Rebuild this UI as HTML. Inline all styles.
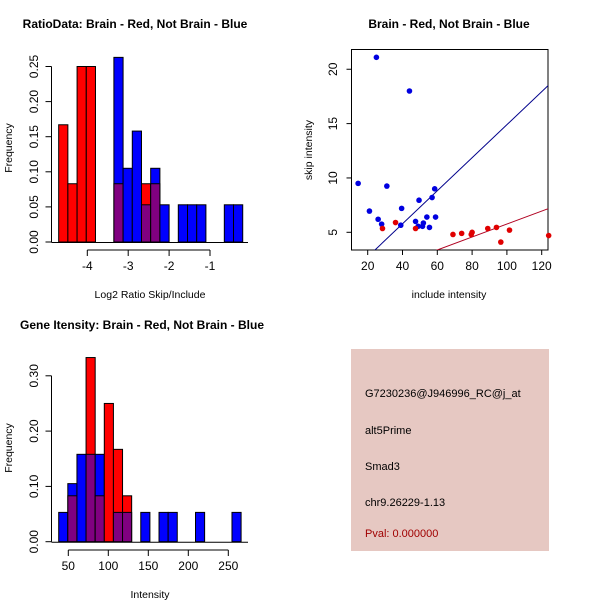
<!DOCTYPE html>
<html><head><meta charset="utf-8"><style>
body{margin:0;background:#fff;}
svg{display:block;font-family:"Liberation Sans",sans-serif;}
</style></head><body>
<svg id="s" width="600" height="600" xmlns="http://www.w3.org/2000/svg">
<rect width="600" height="600" fill="#fff"/>
<text x="135" y="28" font-size="12" font-weight="bold" text-anchor="middle">RatioData: Brain - Red, Not Brain - Blue</text>
<text x="150" y="298" font-size="10.5" text-anchor="middle">Log2 Ratio Skip/Include</text>
<text x="12" y="148" font-size="10.5" text-anchor="middle" transform="rotate(-90 12 148)">Frequency</text>
<text x="449" y="28" font-size="12" font-weight="bold" text-anchor="middle">Brain - Red, Not Brain - Blue</text>
<text x="449" y="298" font-size="10.5" text-anchor="middle">include intensity</text>
<text x="312" y="150" font-size="10.5" text-anchor="middle" transform="rotate(-90 312 150)">skip intensity</text>
<text x="142" y="329" font-size="12" font-weight="bold" text-anchor="middle">Gene Itensity: Brain - Red, Not Brain - Blue</text>
<text x="150" y="598" font-size="10.5" text-anchor="middle">Intensity</text>
<text x="12" y="448" font-size="10.5" text-anchor="middle" transform="rotate(-90 12 448)">Frequency</text>
<rect x="351" y="349" width="198" height="202" fill="#e6c8c2"/>
<g font-size="11">
<text x="365" y="397">G7230236@J946996_RC@j_at</text>
<text x="365" y="434">alt5Prime</text>
<text x="365" y="470">Smad3</text>
<text x="365" y="506">chr9.26229-1.13</text>
<text x="365" y="537" fill="#a00000">Pval: 0.000000</text>
</g>
</svg>
<script>
// ratio histogram data
const ratioStart = -4.70, ratioWidth = 0.225;
const ratioRed  = [0.167,0.083,0.25,0.25,0,0,0.083,0,0,0.083,0.083,0,0,0,0,0,0,0,0,0];
const ratioBlue = [0,0,0,0,0,0,0.263,0.105,0.158,0.053,0.105,0.053,0,0.053,0.053,0.053,0,0,0.053,0.053];
const ratioXTicks = [-4,-3,-2,-1];
const ratioYTicks = [0,0.05,0.10,0.15,0.20,0.25];
const ratioYLabels = ["0.00","0.05","0.10","0.15","0.20","0.25"];
// gene intensity histogram data
const geneStart = 38, geneWidth = 11.4;
const geneRed  = [0,0.083,0,0.333,0.083,0.25,0.167,0.083,0,0,0,0,0,0,0,0,0,0,0,0];
const geneBlue = [0.053,0.105,0.158,0.158,0.158,0,0.053,0.053,0,0.053,0,0.053,0.053,0,0,0.053,0,0,0,0.053];
const geneXTicks = [50,100,150,200,250];
const geneYTicks = [0,0.10,0.20,0.30];
const geneYLabels = ["0.00","0.10","0.20","0.30"];
// scatter data
const blueX = [14.5,25,44,21,26,28,31,39,39.5,47.5,49,49.5,51.5,52,54,55.5,57,58.5,59];
const blueY = [9.5,21.1,18,6.95,6.2,5.75,9.25,5.65,7.2,6.0,5.55,7.95,5.55,5.85,6.4,5.45,8.2,9.0,6.4];
const redX = [28.5,36,47.5,69,74,79.5,80,89,94,96.5,101.5,124];
const redY = [5.35,5.9,5.35,4.8,4.9,4.8,5.0,5.35,5.45,4.1,5.2,4.7];
const blueFit = [-0.3,0.152];
const redFit = [-0.2,0.0596];
const scatXTicks = [20,40,60,80,100,120];
const scatYTicks = [5,10,15,20];

const svg = document.getElementById('s');
const NS = 'http://www.w3.org/2000/svg';
function mk(tag, at, parent){ const e=document.createElementNS(NS,tag); for(const k in at) e.setAttribute(k,at[k]); (parent||svg).appendChild(e); return e; }

function hist(start,width,red,blue,xs,ys,ysLab,x0,y0,sx,sy,axisY,prefix,xLo){
  const X=v=>x0+(v-xLo)*sx, Y=v=>y0-v*sy;
  const g=mk('g',{});
  
  
  for(let i=0;i<red.length;i++){
    const a=start+i*width, b=a+width, r=red[i], bl=blue[i];
    const m=Math.min(r,bl), M=Math.max(r,bl);
    if(M>0){
      const e=mk('rect',{x:X(a),y:Y(M),width:X(b)-X(a),height:Y(0)-Y(M),fill:r>bl?'#ff0000':'#0000ff',stroke:'#000','stroke-width':1},g);
      
      
    }
    if(m>0){
      const e=mk('rect',{x:X(a),y:Y(m),width:X(b)-X(a),height:Y(0)-Y(m),fill:'#800080',stroke:'#000','stroke-width':1},g);
      
      
    }
  }
  const bl=mk('line',{x1:51.5,x2:248,y1:Y(0)+0.5,y2:Y(0)+0.5,stroke:'#000'});
  
  
  const ax=mk('g',{stroke:'#000',fill:'none'});
  
  
  mk('line',{x1:X(xs[0]),x2:X(xs[xs.length-1]),y1:axisY,y2:axisY},ax);
  xs.forEach(v=>{
    mk('line',{x1:X(v),x2:X(v),y1:axisY,y2:axisY+6},ax);
    const t=mk('text',{x:X(v),y:axisY+20,'font-size':12,'text-anchor':'middle',fill:'#000',stroke:'none'},ax);
    t.textContent=v;
  });
  const ay=mk('g',{stroke:'#000',fill:'none'});
  
  
  mk('line',{x1:51.5,x2:51.5,y1:Y(ys[0]),y2:Y(ys[ys.length-1])},ay);
  ys.forEach((v,i)=>{
    mk('line',{x1:45.5,x2:51.5,y1:Y(v),y2:Y(v)},ay);
    const t=mk('text',{x:38,y:Y(v),'font-size':12,'text-anchor':'middle',fill:'#000',stroke:'none',transform:`rotate(-90 38 ${Y(v)})`},ay);
    t.textContent=ysLab[i];
  });
}
hist(ratioStart,ratioWidth,ratioRed,ratioBlue,ratioXTicks,ratioYTicks,ratioYLabels,87.3,242,40.9,702,250,'ratio',-4);
hist(geneStart,geneWidth,geneRed,geneBlue,geneXTicks,geneYTicks,geneYLabels,68.3,541.7,0.8,553,550,'gene',50);

// scatter
(function(){
  const X=v=>367.7+(v-20)*1.74, Y=v=>232.3-(v-5)*10.87;
  const L=351.5,R=548,T=49.5,B=250;
  mk('defs',{}).innerHTML='<clipPath id="cp"><rect x="'+L+'" y="'+T+'" width="'+(R-L)+'" height="'+(B-T)+'"/></clipPath>';
  const box=mk('rect',{x:L,y:T,width:R-L,height:B-T,fill:'none',stroke:'#000'});
  
  
  const fits=mk('g',{'clip-path':'url(#cp)'});
  
  
  const xa=0, xb=140;
  const lb=mk('line',{x1:X(xa),y1:Y(blueFit[0]+blueFit[1]*xa),x2:X(xb),y2:Y(blueFit[0]+blueFit[1]*xb),stroke:'#00008b'},fits);
  
  
  const lr=mk('line',{x1:X(xa),y1:Y(redFit[0]+redFit[1]*xa),x2:X(xb),y2:Y(redFit[0]+redFit[1]*xb),stroke:'#b00020'},fits);
  
  
  const pts=mk('g',{});
  
  
  blueX.forEach((v,i)=>{
    const c=mk('circle',{cx:X(v),cy:Y(blueY[i]),r:2.8,fill:'#0000e0'},pts);
    
    
  });
  redX.forEach((v,i)=>{
    const c=mk('circle',{cx:X(v),cy:Y(redY[i]),r:2.8,fill:'#e00000'},pts);
    
    
  });
  const ax=mk('g',{stroke:'#000'});
  
  
  scatXTicks.forEach(v=>{
    mk('line',{x1:X(v),x2:X(v),y1:B,y2:B+5},ax);
    const t=mk('text',{x:X(v),y:B+20,'font-size':12,'text-anchor':'middle',stroke:'none',fill:'#000'},ax);
    t.textContent=v;
  });
  const ay=mk('g',{stroke:'#000'});
  
  
  scatYTicks.forEach(v=>{
    mk('line',{x1:L-5,x2:L,y1:Y(v),y2:Y(v)},ay);
    const t=mk('text',{x:337,y:Y(v),'font-size':12,'text-anchor':'middle',stroke:'none',fill:'#000',transform:`rotate(-90 337 ${Y(v)})`},ay);
    t.textContent=v;
  });
})();
</script>
</body></html>
